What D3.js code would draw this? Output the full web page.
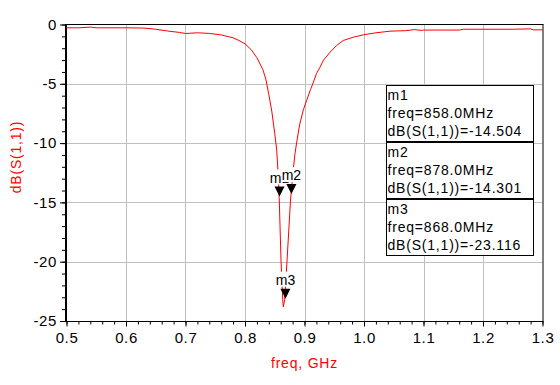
<!DOCTYPE html>
<html>
<head>
<meta charset="utf-8">
<script src="https://cdn.jsdelivr.net/npm/d3@7"></script>
<style>
  body { margin: 0; background: #fff; }
  text { font-family: Arial, "Liberation Sans", sans-serif; }
</style>
</head>
<body>
<div id="chart"></div>
<script>
// S11 return loss plot, freq sweep 0.5 - 1.3 GHz

var freq = [0.50, 0.52, 0.54, 0.55, 0.60, 0.63, 0.65, 0.67, 0.69, 0.70, 0.72, 0.74,
            0.76, 0.78, 0.79, 0.80, 0.81, 0.82, 0.83, 0.835, 0.84, 0.845, 0.85, 0.8533,
            0.8555, 0.8575, 0.8605, 0.8634, 0.8644, 0.8667, 0.8707, 0.8765, 0.881, 0.884,
            0.887, 0.892, 0.898, 0.904, 0.91, 0.915, 0.92, 0.926, 0.932, 0.943, 0.954,
            0.965, 0.982, 1.00, 1.02, 1.044, 1.07, 1.085, 1.097, 1.10, 1.16, 1.167,
            1.25, 1.28, 1.285, 1.30];
var s11 = [-0.28, -0.28, -0.22, -0.28, -0.28, -0.30, -0.40, -0.55, -0.67, -0.76, -0.70, -0.75,
           -0.88, -1.12, -1.35, -1.63, -2.1, -2.8, -3.8, -4.6, -5.9, -7.3, -9.2, -10.6,
           -12.4, -14.6, -19.86, -23.2, -23.8, -23.2, -19.86, -14.8, -12.3, -10.9,
           -9.9, -8.4, -7.2, -6.35, -5.5, -4.86, -4.15, -3.6, -3.0, -2.33, -1.77,
           -1.35, -1.07, -0.86, -0.70, -0.56, -0.52, -0.43, -0.50, -0.47, -0.47, -0.40,
           -0.40, -0.37, -0.45, -0.45];

var markerNames = ["m1", "m2", "m3"];
var markerFreq = [0.858, 0.878, 0.868];
var markerDb = [-14.504, -14.301, -23.116];

var xTicks = [0.5, 0.6, 0.7, 0.8, 0.9, 1.0, 1.1, 1.2, 1.3];
var yTicks = [0, -5, -10, -15, -20, -25];

var W = 560, H = 385;
var pL = 66.5, pR = 542.5, pT = 24.5, pB = 321;

var svg = d3.select("#chart")
    .append("svg")
    .attr("width", W)
    .attr("height", H);

var x = d3.scaleLinear().domain([0.5, 1.3]).range([pL, pR]);
var y = d3.scaleLinear().domain([-25, 0]).range([pB, pT]);

function styleTicks(g) {
    g.select(".domain").remove();
    g.selectAll("line").attr("stroke", "#000");
    g.selectAll("text").attr("font-size", 15).attr("fill", "#000")
        .attr("font-family", "Arial, 'Liberation Sans', sans-serif")
        .attr("letter-spacing", 0.6);
}

// grid
svg.append("g").selectAll("line")
    .data(xTicks.slice(1, -1))
    .enter().append("line")
    .attr("x1", function(d) { return Math.round(x(d)) + 0.5; })
    .attr("x2", function(d) { return Math.round(x(d)) + 0.5; })
    .attr("y1", pT).attr("y2", pB)
    .attr("stroke", "#c0c0c0");
svg.append("g").selectAll("line")
    .data(yTicks.slice(1, -1))
    .enter().append("line")
    .attr("y1", function(d) { return Math.round(y(d)) + 0.5; })
    .attr("y2", function(d) { return Math.round(y(d)) + 0.5; })
    .attr("x1", pL).attr("x2", pR)
    .attr("stroke", "#c0c0c0");

// axes
svg.append("g")
    .attr("transform", "translate(0," + (pB + 0.5) + ")")
    .call(d3.axisBottom(x).tickValues(d3.range(0.5, 1.3001, 0.02)).tickSize(3).tickFormat(""))
    .call(styleTicks);
svg.append("g")
    .attr("transform", "translate(0," + (pB + 0.5) + ")")
    .call(d3.axisBottom(x).tickValues(xTicks).tickSize(5).tickPadding(6)
        .tickFormat(d3.format(".1f")))
    .call(styleTicks);

svg.append("g")
    .attr("transform", "translate(" + (pL - 0.5) + ",0)")
    .call(d3.axisLeft(y).tickValues(d3.range(-25, 0.5, 1)).tickSize(4).tickFormat(""))
    .call(styleTicks);
svg.append("g")
    .attr("transform", "translate(" + (pL - 0.5) + ",0)")
    .call(d3.axisLeft(y).tickValues(yTicks).tickSize(6).tickPadding(3)
        .tickFormat(function(d) { return d === 0 ? "0" : "-" + Math.abs(d); }))
    .call(styleTicks);

// frame
svg.append("line").attr("x1", pL - 1).attr("x2", pR + 1)
    .attr("y1", Math.floor(pT) + 0.5).attr("y2", Math.floor(pT) + 0.5).attr("stroke", "#000");
svg.append("line").attr("x1", pR + 0.5).attr("x2", pR + 0.5)
    .attr("y1", pT).attr("y2", pB + 1).attr("stroke", "#000");
svg.append("line").attr("x1", pL - 1).attr("x2", pR + 1)
    .attr("y1", pB + 0.5).attr("y2", pB + 0.5).attr("stroke", "#000");
svg.append("line").attr("x1", pL - 0.5).attr("x2", pL - 0.5)
    .attr("y1", pT - 0.5).attr("y2", pB + 1).attr("stroke", "#000").attr("stroke-width", 2);

// trace
var line = d3.line()
    .x(function(d, i) { return x(freq[i]); })
    .y(function(d) { return y(d); });
svg.append("path")
    .datum(s11)
    .attr("d", line)
    .attr("fill", "none")
    .attr("stroke", "#ff0000")
    .attr("stroke-width", 1);

// markers
var mk = svg.append("g").selectAll("g")
    .data(markerNames)
    .enter().append("g")
    .attr("transform", function(d, i) {
        return "translate(" + x(markerFreq[i]) + "," + y(markerDb[i]) + ")";
    });
mk.append("rect")
    .attr("x", -10).attr("y", -27).attr("width", 20).attr("height", 15)
    .attr("fill", "#fff");
mk.append("text")
    .attr("y", -14)
    .attr("text-anchor", "middle")
    .attr("font-size", 14)
    .text(function(d) { return d; });
mk.append("path")
    .attr("d", "M-5,-10L5,-10L0,0Z")
    .attr("fill", "#000");

// marker readouts
var boxX = 386.5, boxY = 85.5, boxW = 147, boxH = 57;
var rd = svg.append("g").selectAll("g")
    .data(markerNames)
    .enter().append("g")
    .attr("transform", function(d, i) {
        return "translate(" + boxX + "," + (boxY + i * boxH) + ")";
    });
rd.append("rect")
    .attr("width", boxW).attr("height", boxH - 1)
    .attr("fill", "#fff").attr("stroke", "#000");
rd.append("text")
    .attr("x", 1).attr("font-size", 14).attr("letter-spacing", 0.8)
    .selectAll("tspan")
    .data(function(d, i) {
        return [d,
                "freq=" + (markerFreq[i] * 1000).toFixed(1) + "MHz",
                "dB(S(1,1))=" + markerDb[i].toFixed(3)];
    })
    .enter().append("tspan")
    .attr("x", 1)
    .attr("y", function(d, j) { return 14 + j * 18; })
    .text(function(d) { return d; });

// axis titles
svg.append("text")
    .attr("x", (pL + pR) / 2)
    .attr("y", 368)
    .attr("text-anchor", "middle")
    .attr("font-size", 14)
    .attr("letter-spacing", 0.8)
    .attr("fill", "#ff0000")
    .text("freq, GHz");
svg.append("text")
    .attr("transform", "translate(21,157) rotate(-90)")
    .attr("text-anchor", "middle")
    .attr("font-size", 14)
    .attr("letter-spacing", 0.8)
    .attr("fill", "#ff0000")
    .text("dB(S(1,1))");
</script>
</body>
</html>
